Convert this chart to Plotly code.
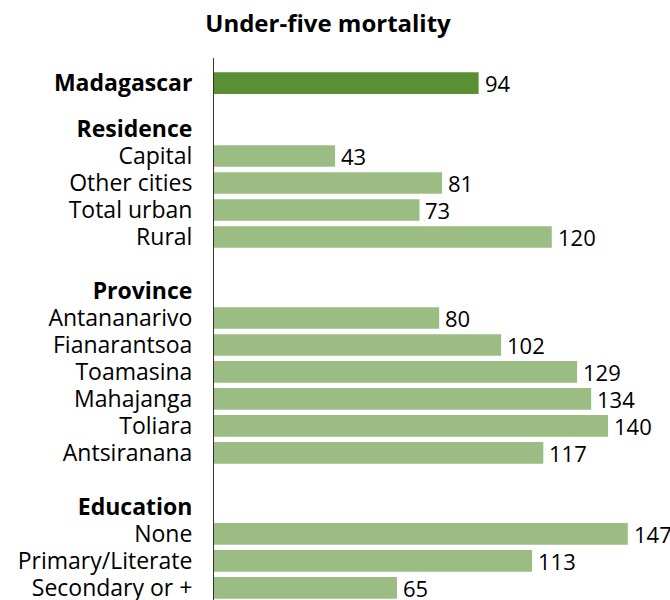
import plotly.graph_objects as go

labels = ["Madagascar", "Residence", "Capital", "Other cities", "Total urban", "Rural",
          "Province", "Antananarivo", "Fianarantsoa", "Toamasina", "Mahajanga", "Toliara", "Antsiranana",
          "Education", "None", "Primary/Literate", "Secondary or +"]
values = [94, None, 43, 81, 73, 120,
          None, 80, 102, 129, 134, 140, 117,
          None, 147, 113, 65]
headers = ["Madagascar", "Residence", "Province", "Education"]
rows = [0, 1.7, 2.7, 3.7, 4.7, 5.7, 7.7, 8.7, 9.7, 10.7, 11.7, 12.7, 13.7, 15.7, 16.7, 17.7, 18.7]

DARK = "#5b8f33"
LIGHT = "#9bbd84"
FONT = "Open Sans"

bx, by, bc, bt = [], [], [], []
for lab, v, r in zip(labels, values, rows):
    if v is None:
        continue
    bx.append(v)
    by.append(r)
    bc.append(DARK if lab == "Madagascar" else LIGHT)
    bt.append(str(v))

ticktext = [f"<b>{l}</b>" if l in headers else l for l in labels]

fig = go.Figure()
fig.add_trace(go.Bar(
    x=bx, y=by, orientation="h", marker=dict(color=bc, line=dict(width=0)),
    width=0.8, hoverinfo="skip",
))
for v, r, t in zip(bx, by, bt):
    fig.add_annotation(x=v, y=r, text=t, xanchor="left", yanchor="middle", xshift=4,
                       showarrow=False, font=dict(family=FONT, size=22, color="#000"))

fig.update_layout(
    width=670, height=600,
    margin=dict(l=214, r=0, t=58, b=0, autoexpand=False),
    plot_bgcolor="white", paper_bgcolor="white",
    showlegend=False,
    title=dict(text="<b>Under-five mortality</b>", x=328/670, xref="container", xanchor="center",
               y=1 - 24/600, yref="container", yanchor="middle",
               font=dict(family=FONT, size=24, color="#000")),
    xaxis=dict(range=[0, 162], visible=False, fixedrange=True, automargin=False),
    yaxis=dict(range=[19.15, -0.93], tickvals=rows, ticktext=ticktext, automargin=False,
               showgrid=False, zeroline=False, showline=True, linecolor="#333", linewidth=1,
               ticks="", ticklen=0, tickfont=dict(family=FONT, size=23, color="#000"),
               ticklabelstandoff=16, ticklabeloverflow="allow", fixedrange=True),
)

fig.write_html("out.html", config={"displayModeBar": False},
               post_script="document.body.style.margin='0';document.body.style.overflow='hidden';")
